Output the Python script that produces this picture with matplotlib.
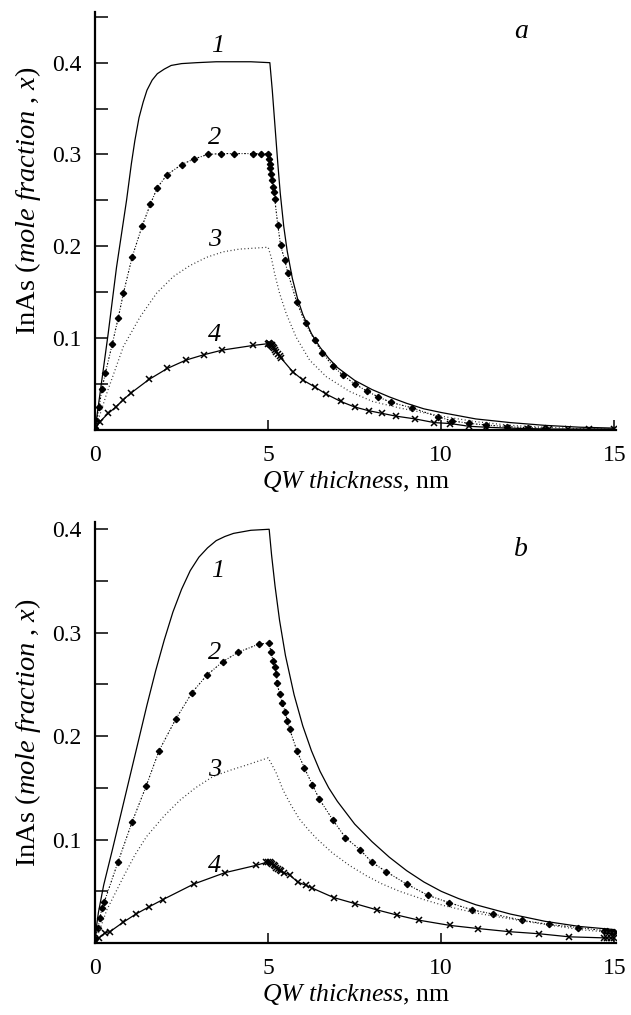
import numpy as np
import matplotlib
matplotlib.use('Agg')
import matplotlib.pyplot as plt
from matplotlib.ticker import MultipleLocator

plt.rcParams['font.family'] = 'Liberation Serif'
plt.rcParams['mathtext.fontset'] = 'custom'
plt.rcParams['mathtext.rm'] = 'Liberation Serif'
plt.rcParams['mathtext.it'] = 'Liberation Serif:italic'

# ---- panel a ----
a1_x = [0, 0.12, 0.38, 0.62, 0.91, 1.05, 1.15, 1.27, 1.39, 1.5, 1.65, 1.8, 2.0, 2.2, 2.5, 2.93, 3.5, 4.0, 4.5, 5.05,
        5.12, 5.2, 5.28, 5.35, 5.45, 5.55, 5.7, 5.85, 6.0, 6.25, 6.5, 6.75, 7.0, 7.5, 8.0, 8.5, 9.0, 9.5, 10,
        11, 12, 13, 14, 15]
a1_y = [0, 0.033, 0.105, 0.177, 0.25, 0.29, 0.315, 0.34, 0.357, 0.37, 0.381, 0.388, 0.393, 0.397, 0.399, 0.400, 0.401, 0.401, 0.401, 0.400,
        0.37, 0.33, 0.29, 0.258, 0.222, 0.195, 0.165, 0.143, 0.126, 0.105, 0.09, 0.078, 0.068, 0.054, 0.044, 0.036, 0.029, 0.023, 0.019,
        0.012, 0.008, 0.005, 0.003, 0.002]

a2_x = [0, 0.05, 0.12, 0.2, 0.3, 0.5, 0.67, 0.82, 1.07, 1.36, 1.6, 1.8, 2.08, 2.5, 2.85, 3.25, 3.63, 4.0,
        4.56, 4.78, 5.0, 5.02, 5.04, 5.06, 5.08, 5.11, 5.13, 5.16, 5.19, 5.28, 5.36, 5.48, 5.57, 5.83, 6.08,
        6.34, 6.57, 6.86, 7.15, 7.5, 7.87, 8.18, 8.55, 9.17, 9.9, 10.3, 10.8, 11.3, 11.9, 12.5, 13.0]
a2_y = [0.002, 0.01, 0.025, 0.045, 0.062, 0.094, 0.122, 0.149, 0.188, 0.222, 0.246, 0.264, 0.278, 0.289, 0.295, 0.300, 0.301, 0.301,
        0.301, 0.301, 0.301, 0.295, 0.290, 0.285, 0.279, 0.272, 0.265, 0.259, 0.252, 0.223, 0.201, 0.185, 0.171, 0.139, 0.116,
        0.098, 0.084, 0.070, 0.060, 0.050, 0.042, 0.036, 0.030, 0.024, 0.0145, 0.010, 0.0072, 0.0054, 0.0036, 0.0025, 0.002]

a3_x = [0, 0.34, 0.82, 1.3, 1.78, 2.26, 2.74, 3.22, 3.7, 4.18, 4.6, 5.0, 5.09, 5.19, 5.33, 5.52, 5.81, 6.2,
        6.68, 7.35, 8.02, 8.79, 10, 11, 12, 13, 14, 15]
a3_y = [0, 0.04, 0.091, 0.123, 0.149, 0.167, 0.179, 0.188, 0.194, 0.197, 0.198, 0.199, 0.188, 0.17, 0.149, 0.127, 0.101, 0.076,
        0.058, 0.042, 0.031, 0.024, 0.015, 0.009, 0.005, 0.003, 0.0015, 0.001]

a4_x = [0, 0.14, 0.38, 0.6, 0.82, 1.03, 1.56, 2.09, 2.62, 3.15, 3.68, 4.56, 5.0, 5.02, 5.04, 5.06, 5.08,
        5.1, 5.12, 5.14, 5.17, 5.2, 5.24, 5.28, 5.33, 5.38, 5.72, 6.02, 6.34, 6.68, 7.1, 7.5, 7.9, 8.3, 8.7,
        9.25, 9.8, 10.26, 10.8, 11.3, 11.9, 12.5, 13.1, 13.67, 14.27, 15.0]
a4_y = [0.002, 0.009, 0.018, 0.025, 0.033, 0.040, 0.055, 0.067, 0.076, 0.082, 0.087, 0.092, 0.094, 0.0945, 0.094, 0.0935, 0.093,
        0.092, 0.091, 0.090, 0.089, 0.087, 0.085, 0.083, 0.081, 0.078, 0.063, 0.054, 0.047, 0.039, 0.031, 0.025, 0.021, 0.018, 0.015,
        0.012, 0.008, 0.007, 0.004, 0.003, 0.002, 0.0015, 0.001, 0.001, 0.001, 0.001]

# ---- panel b ----
b1_x = [0, 0.05, 0.1, 0.25, 0.5, 0.75, 1.0, 1.25, 1.5, 1.75, 2.0, 2.25, 2.5, 2.75, 3.0, 3.25, 3.5, 3.75, 4.0, 4.5, 5.03,
        5.1, 5.2, 5.33, 5.5, 5.75, 6.0, 6.25, 6.5, 6.75, 7.0, 7.5, 8.0, 8.5, 9.0, 9.5, 10.0, 10.5, 11.0, 12.0, 13.0, 14.0, 15.0]
b1_y = [0, 0.018, 0.03, 0.056, 0.09, 0.125, 0.16, 0.195, 0.23, 0.263, 0.293, 0.32, 0.342, 0.36, 0.373, 0.382, 0.389, 0.393, 0.396, 0.399, 0.4,
        0.375, 0.345, 0.312, 0.278, 0.24, 0.21, 0.186, 0.166, 0.15, 0.137, 0.115, 0.098, 0.083, 0.07, 0.059, 0.05, 0.043, 0.037, 0.028, 0.021, 0.016, 0.013]

b2_x = [0, 0.09, 0.14, 0.2, 0.27, 0.66, 1.07, 1.48, 1.85, 2.34, 2.8, 3.23, 3.69, 4.13, 4.73, 5.02, 5.09, 5.14,
        5.19, 5.24, 5.26, 5.33, 5.41, 5.5, 5.55, 5.62, 5.83, 6.05, 6.28, 6.48, 6.87, 7.23, 7.66, 8.0, 8.41,
        9.0, 9.63, 10.23, 10.9, 11.5, 12.33, 13.1, 13.95, 14.7, 14.8, 14.9, 15.0]
b2_y = [0.004, 0.015, 0.024, 0.034, 0.040, 0.078, 0.117, 0.152, 0.186, 0.217, 0.242, 0.259, 0.272, 0.281, 0.289, 0.290, 0.281, 0.273,
        0.267, 0.260, 0.251, 0.241, 0.232, 0.223, 0.215, 0.207, 0.186, 0.169, 0.153, 0.139, 0.119, 0.102, 0.090, 0.078, 0.069,
        0.057, 0.046, 0.039, 0.032, 0.028, 0.022, 0.018, 0.015, 0.012, 0.012, 0.011, 0.011]

b3_x = [0, 0.34, 0.82, 1.15, 1.49, 2.0, 2.45, 2.9, 3.41, 3.9, 4.37, 5.0, 5.1, 5.24, 5.43, 5.65, 5.9, 6.15, 6.4,
        6.86, 7.35, 7.84, 8.3, 8.8, 9.5, 10.1, 11.0, 12.05, 13.0, 14.0, 15.0]
b3_y = [0, 0.032, 0.064, 0.085, 0.103, 0.123, 0.138, 0.150, 0.161, 0.167, 0.172, 0.179, 0.173, 0.164, 0.148, 0.134, 0.12, 0.11, 0.101,
        0.087, 0.075, 0.065, 0.057, 0.050, 0.042, 0.036, 0.029, 0.023, 0.018, 0.013, 0.010]

b4_x = [0, 0.12, 0.29, 0.43, 0.81, 1.18, 1.56, 1.96, 2.85, 3.75, 4.64, 4.95, 5.0, 5.04, 5.08, 5.12, 5.16,
        5.2, 5.24, 5.28, 5.33, 5.38, 5.45, 5.62, 5.85, 6.08, 6.28, 6.89, 7.52, 8.15, 8.73, 9.37, 10.26,
        11.07, 11.96, 12.82, 13.7, 14.7, 14.8, 14.9, 15.0]
b4_y = [0.003, 0.005, 0.010, 0.011, 0.020, 0.028, 0.035, 0.042, 0.057, 0.068, 0.075, 0.078, 0.078, 0.078, 0.077, 0.076, 0.075,
        0.074, 0.073, 0.072, 0.071, 0.070, 0.068, 0.066, 0.059, 0.056, 0.053, 0.044, 0.038, 0.032, 0.027, 0.022, 0.017,
        0.014, 0.011, 0.009, 0.006, 0.005, 0.005, 0.005, 0.005]

curve_labels = ['1', '2', '3', '4']
a_label_pos = [(3.55, 0.418), (3.45, 0.318), (3.45, 0.207), (3.45, 0.103)]
b_label_pos = [(3.55, 0.36), (3.45, 0.28), (3.45, 0.167), (3.45, 0.074)]

fig = plt.figure(figsize=(6.31, 10.15), dpi=100)
ax_a = fig.add_axes([0.1506, 0.5764, 0.8257, 0.4116])
ax_b = fig.add_axes([0.1506, 0.0709, 0.8257, 0.4148])

panels = [
    (ax_a, (a1_x, a1_y), (a2_x, a2_y), (a3_x, a3_y), (a4_x, a4_y), a_label_pos, 0.455, 'a', (12.3, 0.434), 0.55),
    (ax_b, (b1_x, b1_y), (b2_x, b2_y), (b3_x, b3_y), (b4_x, b4_y), b_label_pos, 0.407, 'b', (12.3, 0.38), 0.5),
]

for ax, c1, c2, c3, c4, lpos, ytop, letter, letter_pos, ylab_y in panels:
    ax.plot(c1[0], c1[1], color='black', lw=0.9)
    ax.plot(c2[0], c2[1], color='black', lw=0.8, ls=(0, (1.5, 1.5, 0.8, 1.5)),
            marker='D', ms=3.2, mec='black', mfc='black')
    ax.plot(c3[0], c3[1], color='#333333', lw=0.9, ls=(0, (0.8, 2.0)))
    ax.plot(c4[0], c4[1], color='black', lw=0.9, marker='x', ms=5, mew=1.1)

    for txt, (lx, ly) in zip(curve_labels, lpos):
        ax.text(lx, ly, txt, fontsize=19, style='italic', ha='center', va='center')
    ax.text(letter_pos[0], letter_pos[1], letter, fontsize=20, style='italic', ha='center', va='center')

    ax.set_xlim(0, 15.05)
    ax.set_ylim(0, ytop)
    ax.set_xticks([0, 5, 10, 15])
    ax.yaxis.set_major_locator(MultipleLocator(0.1))
    ax.yaxis.set_minor_locator(MultipleLocator(0.05))
    ax.set_yticks([0.1, 0.2, 0.3, 0.4])
    ax.set_yticklabels(['0.1', '0.2', '0.3', '0.4'])
    ax.tick_params(axis='y', which='both', direction='in', length=9, width=1.1, labelsize=17, pad=10)
    ax.tick_params(axis='x', direction='in', length=7, width=1.1, labelsize=17, pad=11)
    for s in ['top', 'right']:
        ax.spines[s].set_visible(False)
    for s in ['left', 'bottom']:
        ax.spines[s].set_linewidth(1.6)
    ax.set_xlabel(r'$\it{QW\ thickness}$, nm', fontsize=18.5, labelpad=2)
    ax.set_ylabel(r'InAs ($\it{mole\ fraction}$ , $\it{x}$)', fontsize=20.5, labelpad=6)
    ax.yaxis.set_label_coords(-0.1, ylab_y)

plt.savefig('out.png', dpi=100)
